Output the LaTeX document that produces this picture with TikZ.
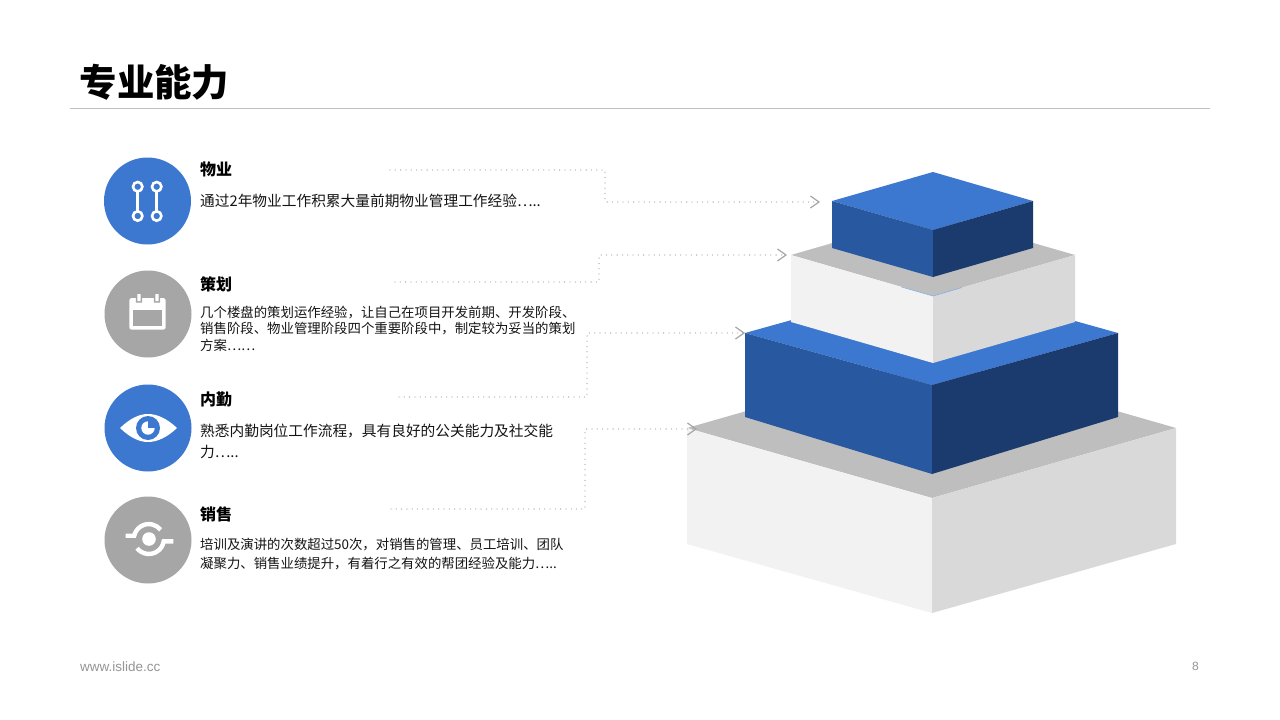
\documentclass[tikz,border=0pt]{standalone}
\usepackage{fontspec}
\setmainfont{Noto Sans CJK SC}
\newfontfamily\latinf{Liberation Sans}
\usetikzlibrary{arrows.meta}
\definecolor{bluea}{HTML}{3C78D0}
\definecolor{blueb}{HTML}{2858A0}
\definecolor{bluec}{HTML}{1B3A6E}
\definecolor{greya}{HTML}{A6A6A6}
\definecolor{greyb}{HTML}{BEBEBE}
\definecolor{greyc}{HTML}{F2F2F2}
\definecolor{greyd}{HTML}{D9D9D9}
\tikzset{
 x=1pt,y=-1pt,
 head/.style={anchor=base west,inner sep=0pt,font=\fontsize{16}{16}\selectfont\bfseries,text=black},
 body/.style={anchor=north west,inner sep=0pt,align=left,text=black!92},
 link/.style={draw=greya,line width=1.3pt,line cap=round,dash pattern=on 0pt off 5.3pt,-{Straight Barb[length=8.5pt,width=12pt,line width=1.2pt,color=greya,line cap=butt]}},
 disc/.style={circle,minimum size=87pt,inner sep=0pt},
 ic/.style={draw=white,line width=2.6pt,fill=none},
}
\begin{document}
\begin{tikzpicture}
\useasboundingbox (0,0) rectangle (1280,720);
\fill[white] (0,0) rectangle (1280,720);
\node[anchor=base west,inner sep=0pt,font=\fontsize{37.4}{37.4}\selectfont\bfseries] (title) at (79.5,96) {专业能力};
\draw[greyb,line width=.8pt] (70,108.5) -- (1210,108.5);
% bottom block
\fill[greyb] (687,428) -- (932,358) -- (1176,428) -- (932,498) -- cycle;
\fill[greyc] (687,428) -- (932,498) -- (932,613) -- (687,544) -- cycle;
\fill[greyd] (1176,428) -- (932,498) -- (932,613) -- (1176,544) -- cycle;
% second block
\fill[bluea] (745,333) -- (932,281) -- (1118,333) -- (932,385) -- cycle;
\fill[blueb] (745,333) -- (932,385) -- (932,474) -- (745,417) -- cycle;
\fill[bluec] (1118,333) -- (932,385) -- (932,474) -- (1118,417) -- cycle;
% third block
\fill[greyb] (791,255) -- (933,214) -- (1075,255) -- (933,296) -- cycle;
\fill[greyc] (791,255) -- (933,296) -- (933,363) -- (791,322) -- cycle;
\fill[greyd] (1075,255) -- (933,296) -- (933,363) -- (1075,322) -- cycle;
\draw[bluea!60,line width=.6pt] (901.5,287) -- (933,296) -- (962,287.5);
% top block
\fill[bluea] (832,201) -- (933,172) -- (1033,201) -- (933,230) -- cycle;
\fill[blueb] (832,201) -- (933,230) -- (933,277) -- (832,248) -- cycle;
\fill[bluec] (1033,201) -- (933,230) -- (933,277) -- (1033,248) -- cycle;
% discs
\node[disc,fill=bluea] (d1) at (147.5,201) {};
\node[disc,fill=greya] (d2) at (148,314) {};
\node[disc,fill=bluea] (d3) at (148,428) {};
\node[disc,fill=greya] (d4) at (148,540) {};
% texts
\node[head] (h1) at (200,175.5) {物业};
\node[body,font=\fontsize{14.7}{20}\selectfont,anchor=base west] (t1) at (200,206) {通过2年物业工作积累大量前期物业管理工作经验…..};
\node[head] (h2) at (200,290.5) {策划};
\node[body,font=\fontsize{13.4}{16.3}\selectfont] (t2) at (200,306) {几个楼盘的策划运作经验，让自己在项目开发前期、开发阶段、\\销售阶段、物业管理阶段四个重要阶段中，制定较为妥当的策划\\方案……};
\node[head] (h3) at (200,405.5) {内勤};
\node[body,font=\fontsize{14.7}{20.5}\selectfont] (t3) at (200,424) {熟悉内勤岗位工作流程，具有良好的公关能力及社交能\\力…..};
\node[head] (h4) at (200,520.5) {销售};
\node[body,font=\fontsize{13.4}{19}\selectfont] (t4) at (200,538) {培训及演讲的次数超过50次，对销售的管理、员工培训、团队\\凝聚力、销售业绩提升，有着行之有效的帮团经验及能力…..};
\node[anchor=base west,inner sep=0pt,text=greya!90!black,font=\latinf\fontsize{13.5}{13.5}\selectfont] (url) at (80,671) {www.islide.cc};
\node[anchor=base east,inner sep=0pt,text=greya!90!black,font=\latinf\fontsize{12}{12}\selectfont] (pg) at (1199,670) {8};
% connectors
\coordinate (a1) at (390,170); \coordinate (b1) at (605,170); \coordinate (c1) at (605,202); \coordinate (e1) at (820,202);
\coordinate (a2) at (395,282); \coordinate (b2) at (599,282); \coordinate (c2) at (599,255); \coordinate (e2) at (787,255);
\coordinate (a3) at (399,397); \coordinate (b3) at (587,397); \coordinate (c3) at (587,333); \coordinate (e3) at (745,333);
\coordinate (a4) at (391,509); \coordinate (b4) at (585,509); \coordinate (c4) at (585,429); \coordinate (e4) at (697,429);
\draw[link] (a1) -- (b1) -- (c1) -- (e1);
\draw[link] (a2) -- (b2) -- (c2) -- (e2);
\draw[link] (a3) -- (b3) -- (c3) -- (e3);
\draw[link] (a4) -- (b4) -- (c4) -- (e4);
% icon 1
\draw[ic] (137.7,186.7) circle (4.7) (156.7,186.7) circle (4.7) (137.7,216) circle (4.7) (156.7,216) circle (4.7);
\draw[ic] (137.7,191.4) -- (137.7,211.3) (156.7,191.4) -- (156.7,211.3);
% icon 2
\fill[white,rounded corners=2.5pt] (129.3,298) rectangle (165.7,329.7);
\fill[greya] (132.7,310) rectangle (161.7,326.3);
\fill[greya] (135.8,294) rectangle (142,302.5) (153.8,294) rectangle (160,302.5);
\fill[white] (137.3,294) rectangle (140.6,301) (155.3,294) rectangle (158.6,301);
% icon 3
\fill[white] (120,428) .. controls (130,418.5) and (139,414) .. (148,414) .. controls (157,414) and (167,418.5) .. (177,428) .. controls (167,437.5) and (157,442) .. (148,442) .. controls (139,442) and (130,437.5) .. (120,428) -- cycle;
\fill[bluea] (148,428) circle (12);
\fill[white] (148,428) circle (6.7);
\fill[bluea] (148,428) -- (148,420) -- (156,420) -- (156,428) -- cycle;
% icon 4
\fill[white] (149,539) circle (6.8);
\draw[white,line width=4.4pt] (125.7,535.7) -- (134.2,535.7) arc (-167:-38:15);
\draw[white,line width=4.4pt] (173.3,541.3) -- (163.7,541.3) arc (9:142:15);
\end{tikzpicture}
\end{document}
